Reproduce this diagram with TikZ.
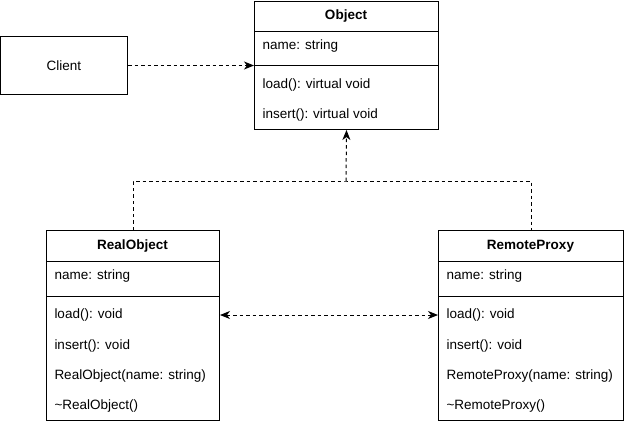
\documentclass[tikz,border=0pt]{standalone}
\usepackage{fontspec}
\setmainfont{Liberation Sans}
\usetikzlibrary{positioning,arrows.meta}

\begin{document}
\begin{tikzpicture}[x=1pt,y=-1pt,line width=1pt,
    >={Stealth[length=10pt,width=8pt,inset=3pt]},
    box/.style={draw, anchor=north west, inner sep=0pt},
    head/.style={font=\fontsize{13.5}{15}\selectfont\bfseries},
    entry/.style={anchor=west, inner sep=0pt, font=\fontsize{13.5}{15}\selectfont},
    dep/.style={dash pattern=on 3.5pt off 3pt, ->}]
    \useasboundingbox (0,0) rectangle (624,424);

    %% Client
    \node[box, minimum width=127, minimum height=58] (client) at (0,36) {};
    \node[entry, anchor=center] (clientT) at (client.center) {Client};

    %% Object
    \node[box, minimum width=184, minimum height=128] (obj) at (254,1) {};
    \node[head] (objT) at (346,16) {Object};
    \draw (254,31) -- (438,31);
    \draw (254,65) -- (438,65);
    \node[entry] (objName) at (262,46) {name: string};
    \node[entry] (objLoad) at (262,85) {load(): virtual void};
    \node[entry] (objIns) at (262,115) {insert(): virtual void};

    %% RealObject
    \node[box, minimum width=173, minimum height=190] (real) at (46,230) {};
    \node[head] (realT) at (132.5,246) {RealObject};
    \draw (46,261) -- (219,261);
    \draw (46,296) -- (219,296);
    \node[entry] (realName) at (54,276) {name: string};
    \node[entry] (realLoad) at (54,315) {load(): void};
    \node[entry] (realIns) at (54,346) {insert(): void};
    \node[entry] (realCtor) at (54,376) {RealObject(name: string)};
    \node[entry] (realDtor) at (54,406) {\textasciitilde RealObject()};

    %% RemoteProxy
    \node[box, minimum width=185, minimum height=190] (proxy) at (438,230) {};
    \node[head] (proxyT) at (530.5,246) {RemoteProxy};
    \draw (438,261) -- (623,261);
    \draw (438,296) -- (623,296);
    \node[entry] (proxyName) at (446,276) {name: string};
    \node[entry] (proxyLoad) at (446,315) {load(): void};
    \node[entry] (proxyIns) at (446,346) {insert(): void};
    \node[entry] (proxyCtor) at (446,376) {RemoteProxy(name: string)};
    \node[entry] (proxyDtor) at (446,406) {\textasciitilde RemoteProxy()};

    %% connectors
    \coordinate (join) at (346,181);
    \draw[dep] (client.east) -- (obj.west |- client.east);
    \draw[dep, -] (real.north) |- (join) -| (proxy.north);
    \draw[dep] (join) -- (obj.south);
    \draw[dep, <->] (real.east |- realLoad) -- (proxy.west |- realLoad);
\end{tikzpicture}
\end{document}
